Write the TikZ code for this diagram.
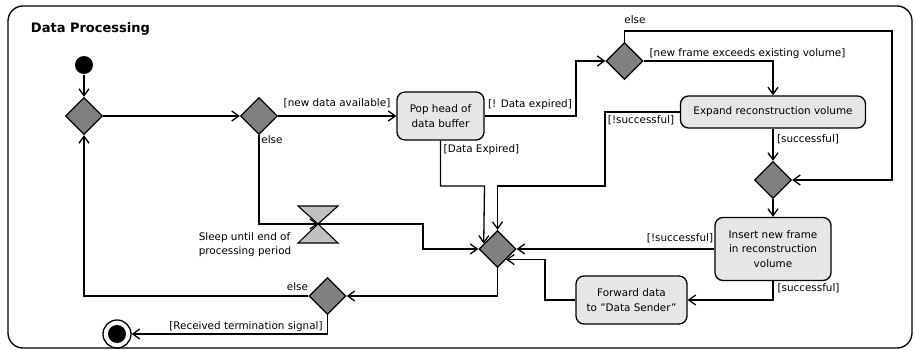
\documentclass[tikz,border=0pt]{standalone}
\usepackage{fontspec}
\setmainfont{DejaVu Sans}
\usetikzlibrary{shapes.geometric,arrows.meta,calc}
\definecolor{diagray}{HTML}{808080}
\definecolor{actgray}{HTML}{E6E6E6}
\definecolor{hourgray}{HTML}{C0C0C0}
\begin{document}
\begin{tikzpicture}[x=1pt,y=-1pt,
  line width=1.3pt,
  every node/.style={font=\fontsize{10.4}{14.5}\selectfont},
  flow/.style={-{Straight Barb[length=7pt,width=10pt,line width=1.3pt]}},
  decision/.style={diamond, draw, fill=diagray, inner sep=0pt, minimum width=37pt, minimum height=37pt},
  act/.style={draw, fill=actgray, rounded corners=8pt, align=center, inner sep=2pt},
  lbl/.style={inner sep=0pt},
]
\useasboundingbox (0,0) rectangle (914,350);
\draw[rounded corners=15pt] (8,6) rectangle (912,348);
\node[anchor=west, font=\fontsize{13}{15}\selectfont\bfseries] (title) at (27,29) {Data Processing};

% nodes
\node[circle, fill=black, inner sep=0pt, minimum size=18pt] (init) at (84,65) {};
\node[decision] (d1) at (84,116) {};
\node[decision] (d2) at (259,116) {};
\node[act, minimum width=87pt, minimum height=48pt] (pop) at (440.5,116) {Pop head of\\data buffer};
\node[decision] (d3) at (624.5,61) {};
\node[act, minimum width=185pt, minimum height=32pt] (expand) at (773,112) {Expand reconstruction volume};
\node[decision] (d4) at (773,180) {};
\node[act, minimum width=116pt, minimum height=63pt] (insert) at (773,249) {Insert new frame\\in reconstruction\\volume};
\node[act, minimum width=111pt, minimum height=48pt] (fwd) at (631.5,300) {Forward data\\to \char34 Data Sender\char34};
\node[decision] (d5) at (497.5,249) {};
\node[decision] (d6) at (327.5,296) {};
\coordinate (sleep) at (318,224);
\draw[fill=hourgray, line width=1.1pt, line join=miter] (298,206) -- (338,206) -- (sleep) -- cycle;
\draw[fill=hourgray, line width=1.1pt, line join=miter] (sleep) -- (298,243) -- (338,243) -- cycle;
\node[circle, draw, minimum size=28pt, inner sep=0pt] (final) at (117,334) {};
\fill (final.center) circle (9pt);

% labels
\node[lbl] (l1) at (337,103) {[new data available]};
\node[lbl] (l2) at (272,140) {else};
\node[lbl] (l3) at (530,105) {[! Data expired]};
\node[lbl] (l4) at (481.5,150) {[Data Expired]};
\node[lbl] (l5) at (635,20) {else};
\node[lbl] (l6) at (747.5,54) {[new frame exceeds existing volume]};
\node[lbl] (l7) at (641,120) {[!successful]};
\node[lbl] (l8) at (808,139) {[successful]};
\node[lbl] (l9) at (680,238) {[!successful]};
\node[lbl] (l10) at (808.5,288) {[successful]};
\node[lbl] (l11) at (297.5,287) {else};
\node[lbl] (l12) at (246,327) {[Received termination signal]};
\node[lbl, align=left] (l13) at (245,244.5) {Sleep until end of\\processing period};

% connectors
\draw[flow] (init) -- (d1);
\draw[flow] (d1) -- (d2);
\draw[flow] (d2) -- (pop);
\draw[flow] (d2.south) |- (sleep);
\draw[flow] (sleep) -- (423,224) |- (d5.west);
\draw[flow] (pop.east) -- (576,116) |- (d3.west);
\draw[flow] (pop.south) |- (484.5,186) -- ($(d5.west)!0.28!(d5.north)$);
\draw[flow] (expand.west) -- (605,112) |- (497.5,186) -- (d5.north);
\draw[flow] (d3.east) -| (expand.north);
\draw[flow] (d3.north) |- (892,31) |- (d4.east);
\draw[flow] (expand) -- (d4);
\draw[flow] (d4) -- (insert);
\draw[flow] (insert.west) -- (d5.east);
\draw[flow] (insert.south) |- (fwd.east);
\draw[flow] (fwd.west) -- (545,300) |- ($(d5.east)!0.55!(d5.south)$);
\draw[flow] (d5.south) |- (d6.east);
\draw[flow] (d6.west) -| (d1.south);
\draw[flow] (d6.south) |- (final.east);
\end{tikzpicture}
\end{document}
